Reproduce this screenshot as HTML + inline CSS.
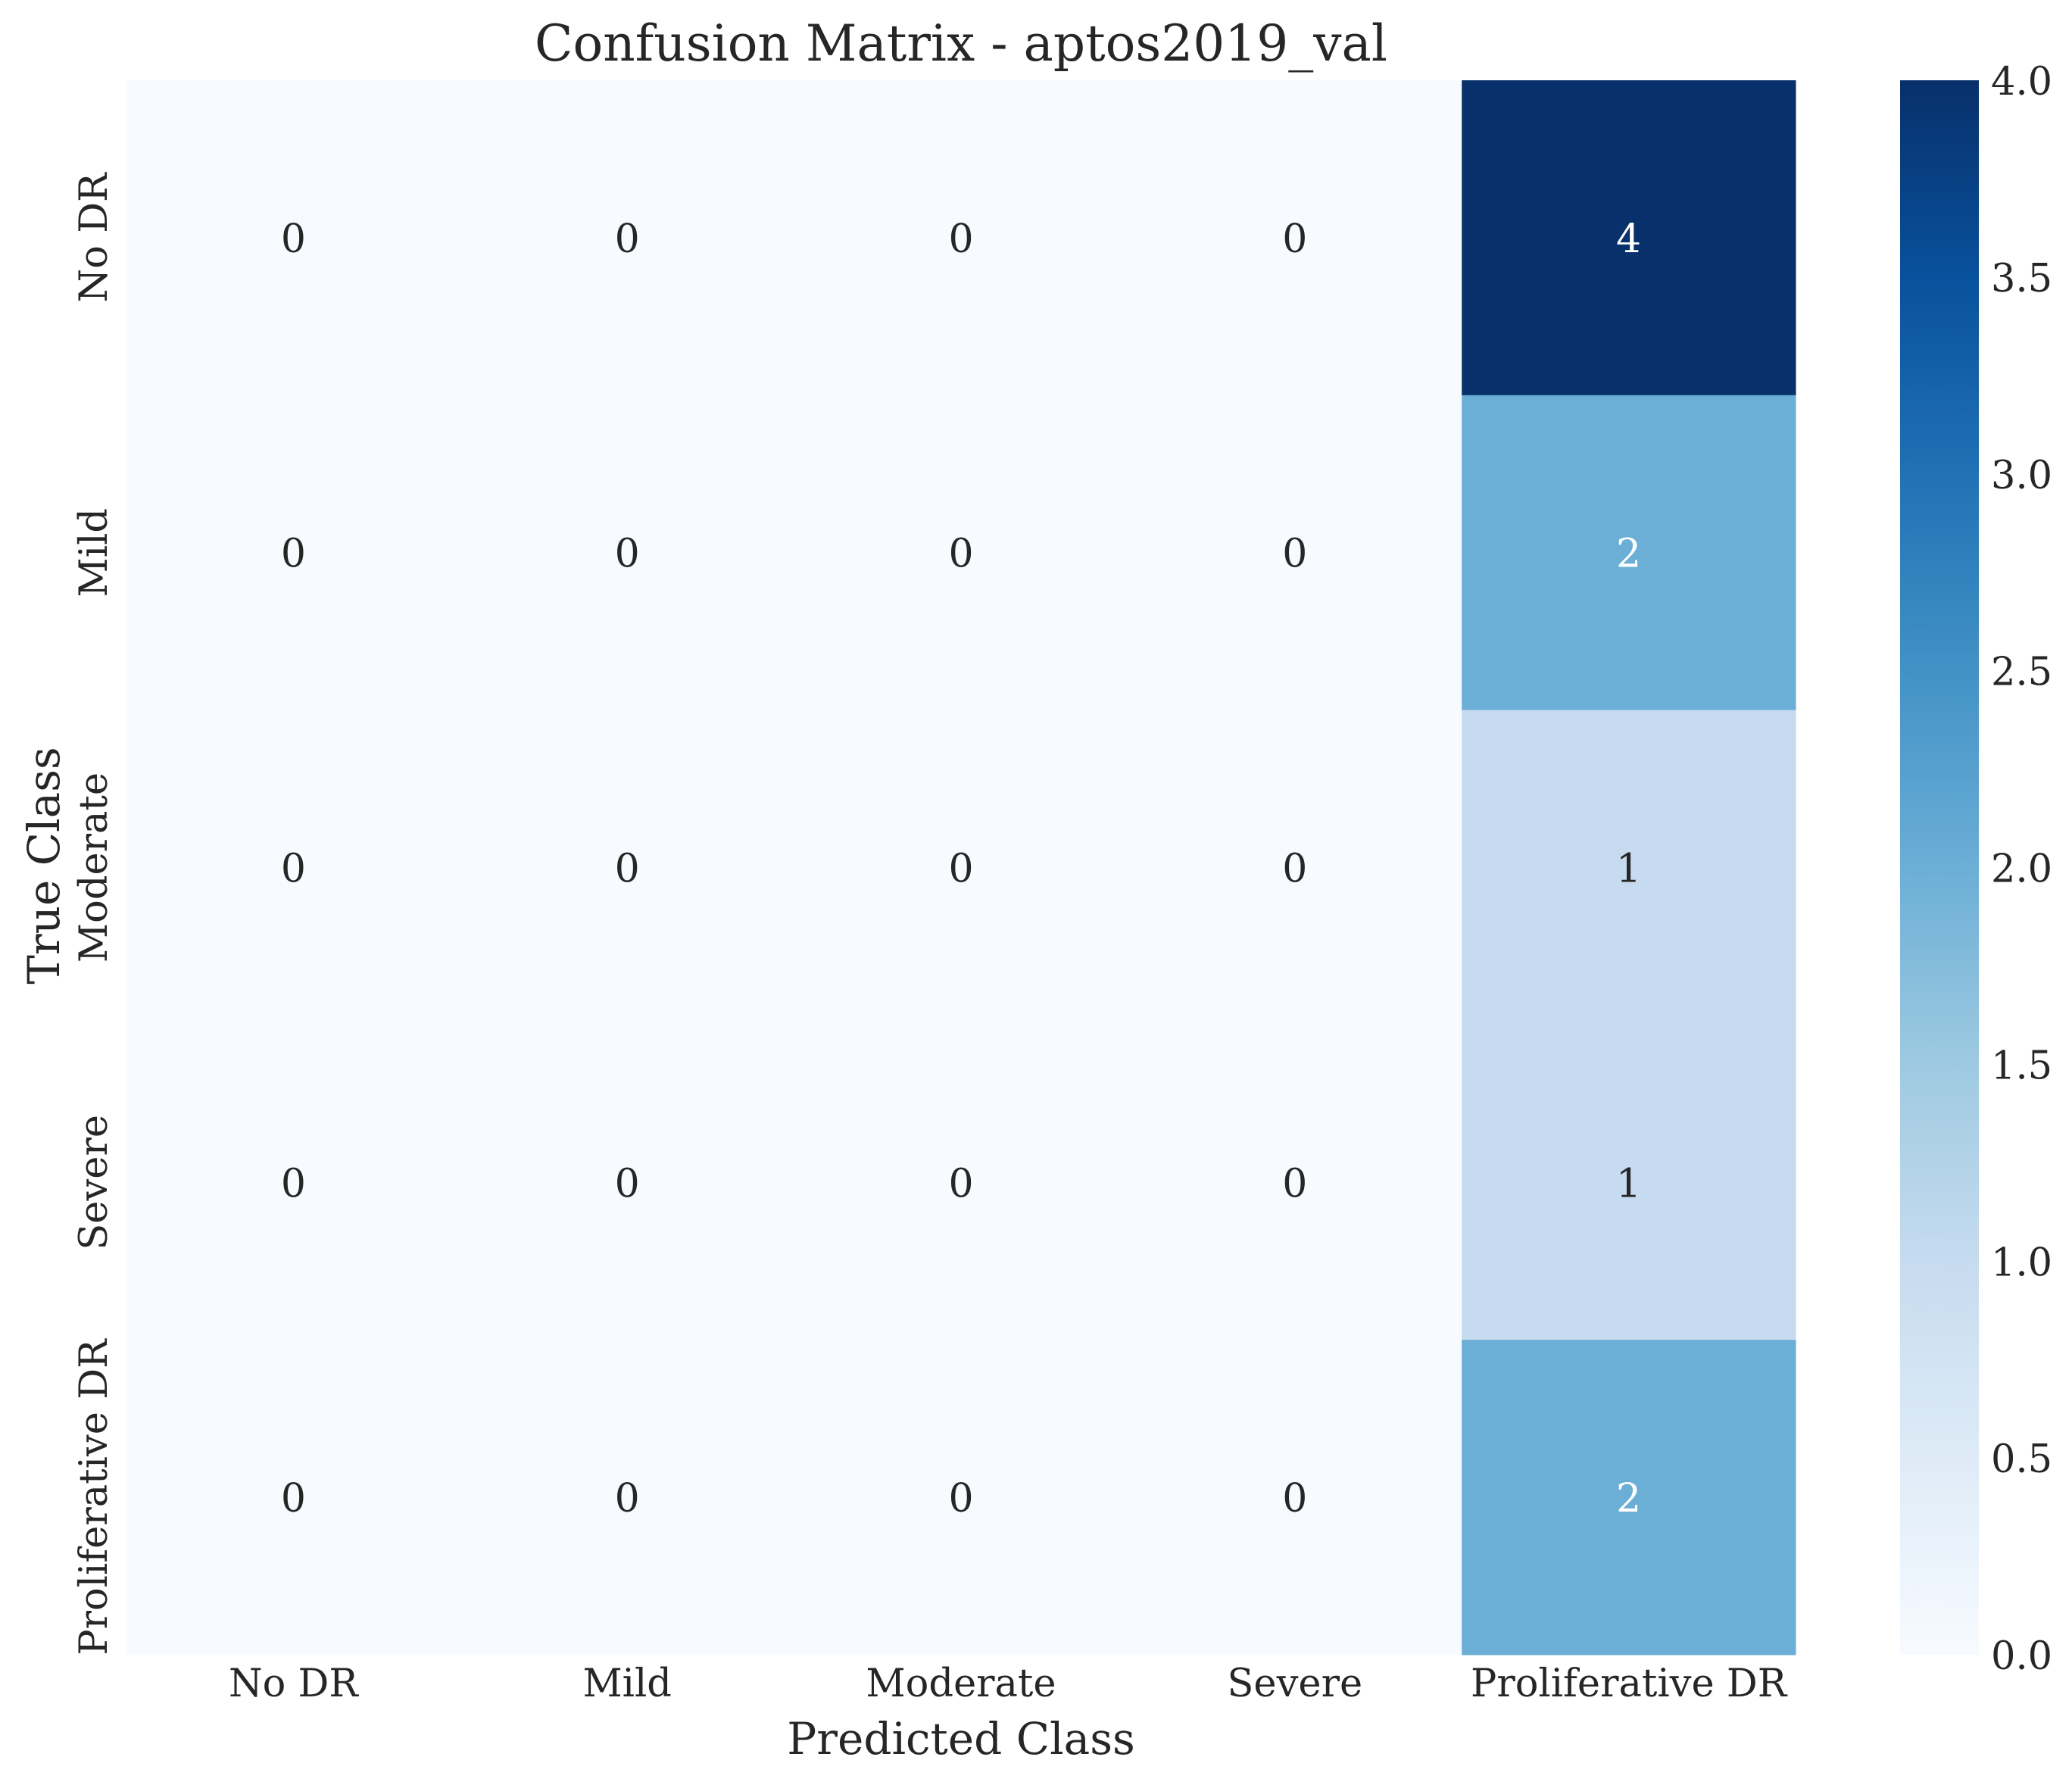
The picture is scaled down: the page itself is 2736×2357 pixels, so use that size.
<!DOCTYPE html>
<html><head><meta charset="utf-8"><style>
html,body{margin:0;padding:0;background:#fff;}
svg text{font-family:"DejaVu Serif","Liberation Serif",serif;fill:#262626;}
</style></head><body>
<svg id="chart" xmlns="http://www.w3.org/2000/svg" width="2736" height="2352" viewBox="0 0 2736 2352">
<defs><linearGradient id="cbgrad" x1="0" y1="1" x2="0" y2="0"></linearGradient></defs>
<rect width="2736" height="2352" fill="#fff"/>
<text x="1269" y="80" font-size="66" text-anchor="middle">Confusion Matrix - aptos2019_val</text>
<g id="cells"></g>
<g id="xticks"></g>
<g id="yticks"></g>
<text x="1269" y="2316" font-size="58" text-anchor="middle">Predicted Class</text>
<text transform="translate(78,1143) rotate(-90)" font-size="58" text-anchor="middle">True Class</text>
<rect x="2509" y="106" width="104" height="2079" fill="url(#cbgrad)"/>
<g id="cbticks"></g>
</svg>
<script>
const classes = ["No DR","Mild","Moderate","Severe","Proliferative DR"];
const row0 = [0,0,0,0,4];
const row1 = [0,0,0,0,2];
const row2 = [0,0,0,0,1];
const row3 = [0,0,0,0,1];
const row4 = [0,0,0,0,2];
const matrix = [row0,row1,row2,row3,row4];
const vmin = 0, vmax = 4;
const cbTicks = [0.0,0.5,1.0,1.5,2.0,2.5,3.0,3.5,4.0];

const NS="http://www.w3.org/2000/svg";
const X0=167,X1=2371,Y0=106,Y1=2185;
const cw=(X1-X0)/classes.length, ch=(Y1-Y0)/classes.length;
const xs=i=>X0+i*cw, ys=i=>Y0+i*ch;
const cbY=v=>Y1-(v-vmin)/(vmax-vmin)*(Y1-Y0);
const blues=[[247,251,255],[222,235,247],[198,219,239],[158,202,225],[107,174,214],[66,146,198],[33,113,181],[8,81,156],[8,48,107]];
function cmap(t){t=Math.max(0,Math.min(1,t));const p=t*8,i=Math.min(7,Math.floor(p)),f=p-i;
 const c=blues[i].map((a,k)=>Math.round(a+(blues[i+1][k]-a)*f));return {rgb:`rgb(${c})`,c};}
function el(tag,attrs,parent,txt){const e=document.createElementNS(NS,tag);for(const k in attrs)e.setAttribute(k,attrs[k]);if(txt!==undefined)e.textContent=txt;parent.appendChild(e);return e;}

const grad=document.getElementById('cbgrad');
blues.forEach((b,i)=>el('stop',{offset:(i/8),'stop-color':`rgb(${b})`},grad));

const cells=document.getElementById('cells');
matrix.forEach((row,r)=>row.forEach((v,c)=>{
 const col=cmap((v-vmin)/(vmax-vmin));
 const rect=el('rect',{x:xs(c),y:ys(r),width:cw+0.5,height:ch+0.5,fill:col.rgb},cells);
 
 
 const lum=(0.299*col.c[0]+0.587*col.c[1]+0.114*col.c[2]);
 const t=el('text',{x:xs(c)+cw/2,y:ys(r)+ch/2+19,'font-size':52,'text-anchor':'middle',style:'fill:'+(lum<160?'#fff':'#262626')},cells,String(v));
 
 
}));

const xt=document.getElementById('xticks'), yt=document.getElementById('yticks');
classes.forEach((name,i)=>{
 const a=el('text',{x:xs(i)+cw/2,y:2240,'font-size':51,'text-anchor':'middle'},xt,name);
 
 
 const b=el('text',{transform:`translate(141,${ys(i)+ch/2}) rotate(-90)`,'font-size':51,'text-anchor':'middle'},yt,name);
 
 
});

const cbt=document.getElementById('cbticks');
cbTicks.forEach(v=>{
 const t=el('text',{x:2629,y:cbY(v)+19,'font-size':51},cbt,v.toFixed(1));
 
 
});
</script>
</body></html>
